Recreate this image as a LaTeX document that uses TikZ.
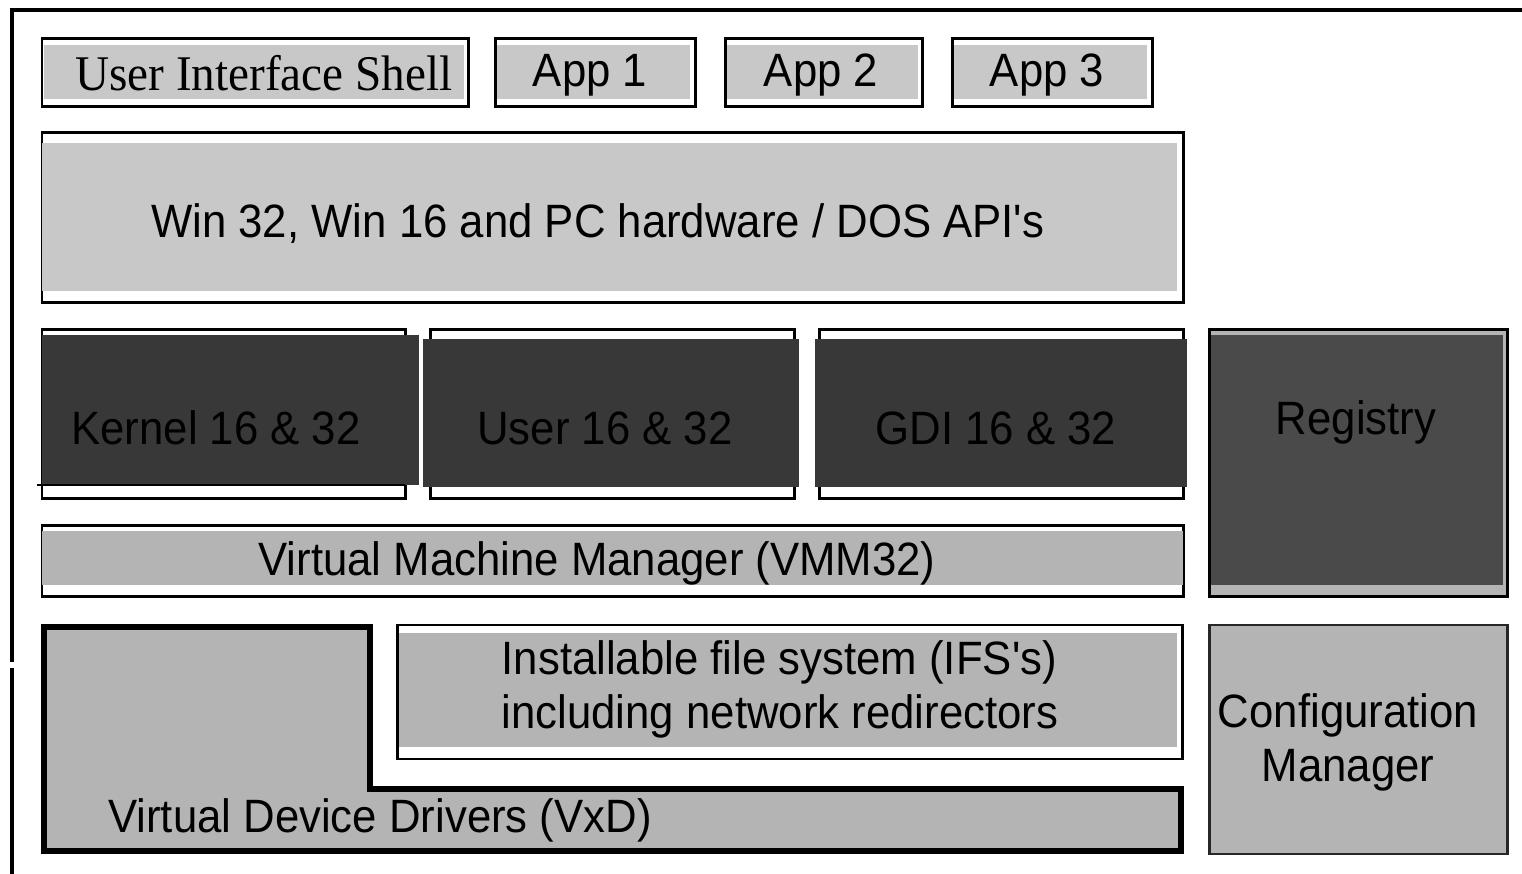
\documentclass[tikz,border=0pt]{standalone}
\usepackage{fontspec}
\setmainfont{Liberation Sans}[FakeStretch=0.935]
\newfontfamily\shellfont{Liberation Serif}[FakeStretch=0.945]
\usepackage{tikz}

\definecolor{panelgray}{gray}{0.784}
\definecolor{layergray}{gray}{0.706}
\definecolor{coregray}{gray}{0.22}
\definecolor{reggray}{gray}{0.29}

\tikzset{
  boxline/.style={line width=0.85pt},
  vxdline/.style={line width=1.7pt},
  layertext/.style={inner sep=0pt, font=\fontsize{13.3}{15.4}\selectfont},
}

\begin{document}
\begin{tikzpicture}[x=0.01cm,y=-0.01cm]
                    \useasboundingbox (0,0) rectangle (1522,874);
                    % frame
                    \draw[line width=1pt] (12,874) -- (12,668);
                    \draw[line width=1pt] (12,662) -- (12,10) -- (1522,10);
                    % top row
                    \draw[boxline] (42,39) rectangle (468,107);
                    \fill[panelgray] (44,45) rectangle (464,99);
                    \node[layertext, font=\shellfont\fontsize{14.2}{16}\selectfont] (shell) at (264,73) {User Interface Shell};
                    \draw[boxline] (495,39) rectangle (695,107);
                    \fill[panelgray] (497,45) rectangle (690,99);
                    \node[layertext] (app1) at (590,75) {App 1};
                    \draw[boxline] (725,39) rectangle (922,107);
                    \fill[panelgray] (727,45) rectangle (918,99);
                    \node[layertext] (app2) at (821,75) {App 2};
                    \draw[boxline] (952,39) rectangle (1152,107);
                    \fill[panelgray] (954,45) rectangle (1147,99);
                    \node[layertext] (app3) at (1047,75) {App 3};
                    % API layer
                    \draw[boxline] (42,133) rectangle (1183,303);
                    \fill[panelgray] (42,143) rectangle (1177,291);
                    \node[layertext] (api) at (598,224) {Win 32, Win 16 and PC hardware / DOS API\textquotesingle s};
                    % core components
                    \draw[boxline] (42,330) rectangle (405,499);
                    \fill[coregray] (42,335) rectangle (419,485);
                    \draw[line width=0.7pt] (37,485) -- (405,485);
                    \node[layertext] (kernel) at (216,428) {Kernel 16 \& 32};
                    \draw[boxline] (430,330) rectangle (794,499);
                    \fill[coregray] (423,339) rectangle (799,487);
                    \node[layertext] (user) at (605,428) {User 16 \& 32};
                    \draw[boxline] (819,330) rectangle (1183,499);
                    \fill[coregray] (815,339) rectangle (1187,487);
                    \node[layertext] (gdi) at (996,428) {GDI 16 \& 32};
                    \draw[boxline, fill=layergray] (1209,330) rectangle (1507,597);
                    \fill[reggray] (1211,335) rectangle (1503,585);
                    \node[layertext] (registry) at (1356,422) {Registry};
                    % VMM
                    \draw[boxline] (42,526) rectangle (1183,597);
                    \fill[layergray] (42,531) rectangle (1183,585);
                    \node[layertext] (vmm) at (597,563) {Virtual Machine Manager (VMM32)};
                    % VxD and IFS
                    \draw[vxdline, fill=layergray] (44,627) -- (370,627) -- (370,789) -- (1181,789) -- (1181,851) -- (44,851) -- cycle;
                    \node[layertext] (vxd) at (380,820) {Virtual Device Drivers (VxD)};
                    \draw[boxline] (397,625) rectangle (1182,759);
                    \fill[layergray] (399,633) rectangle (1177,747);
                    \node[layertext, align=left] (ifs) at (780,689) {Installable file system (IFS\textquotesingle s)\\including network redirectors};
                    \draw[boxline, draw=black!85, fill=layergray] (1209,625) rectangle (1507,854);
                    \node[layertext, align=center] (config) at (1348,742) {Configuration\\Manager};
                \end{tikzpicture}
\end{document}
